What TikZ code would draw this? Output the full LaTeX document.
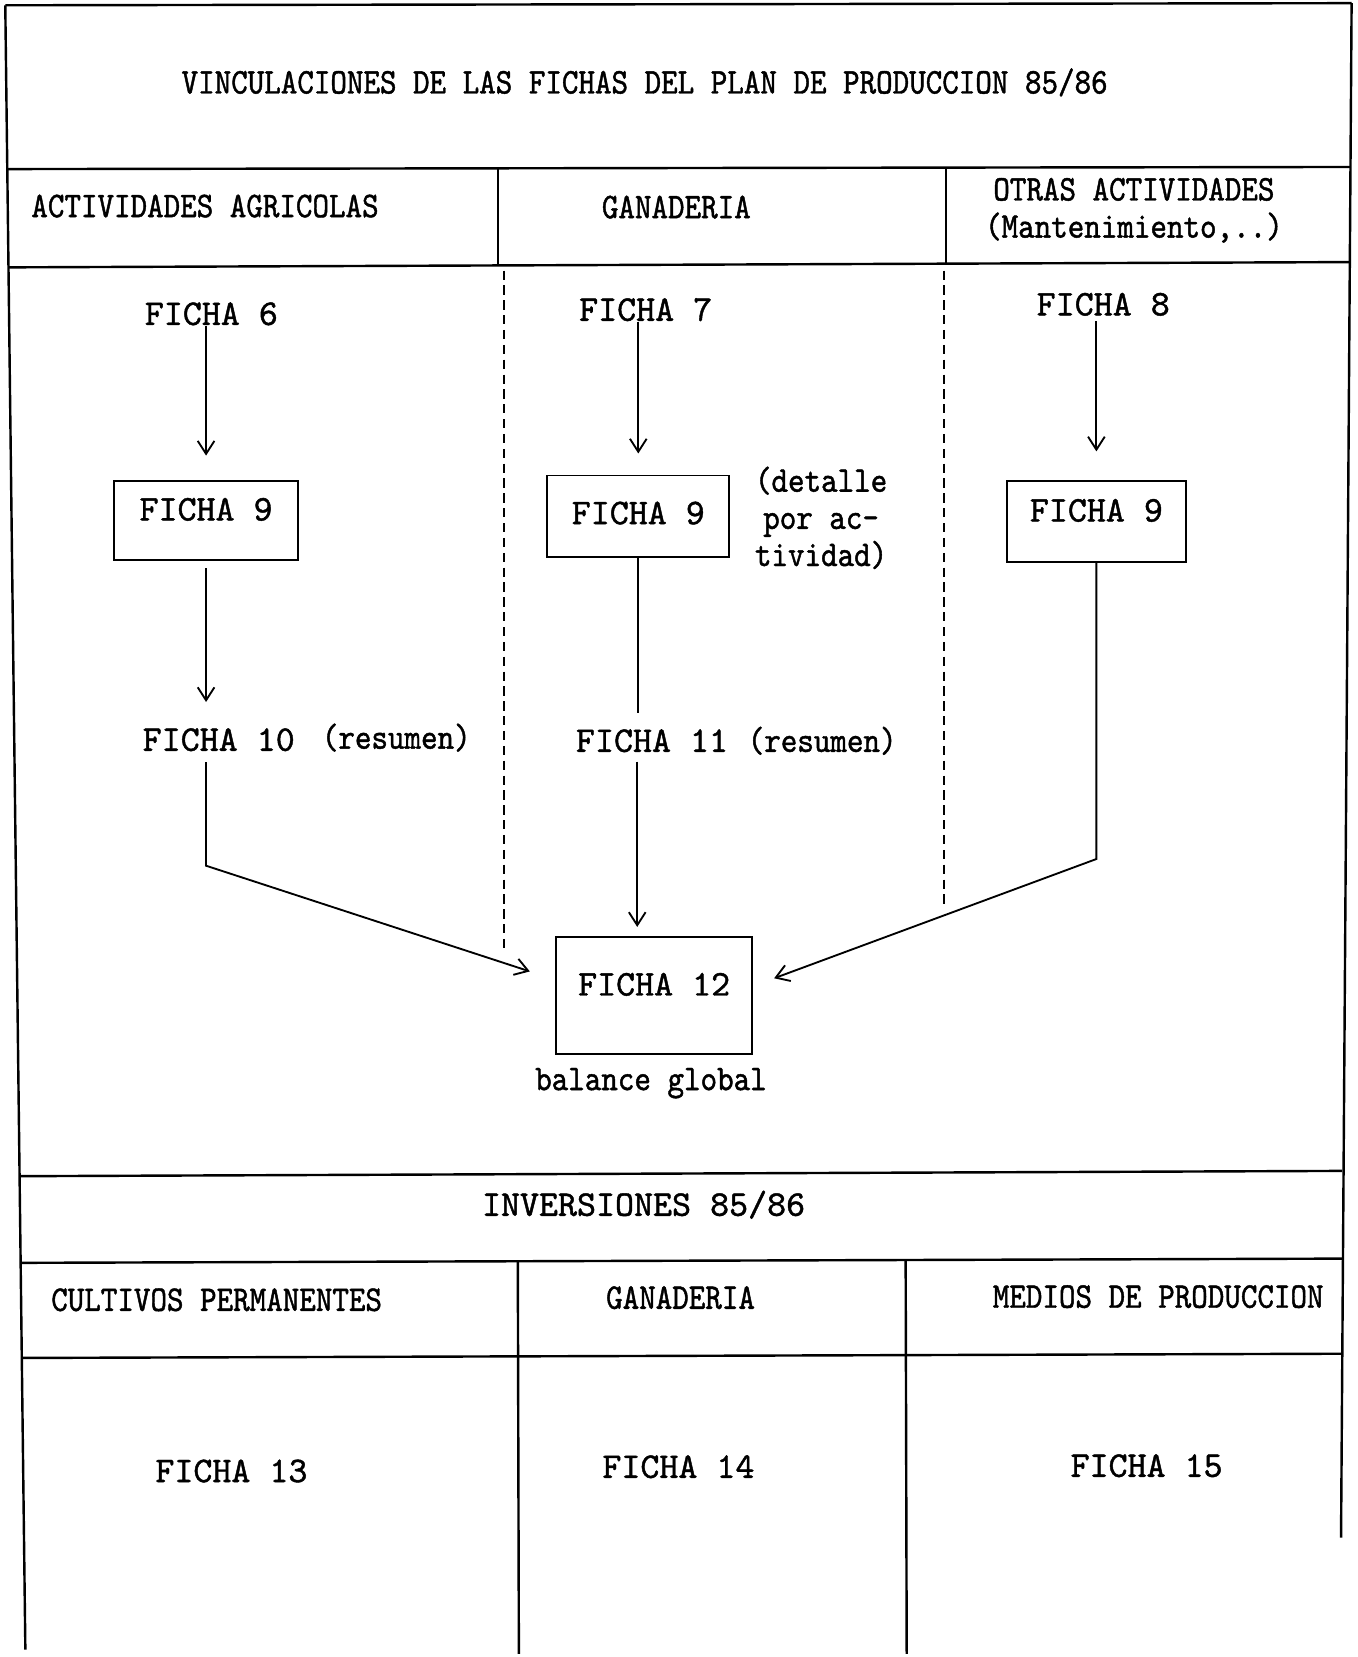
\documentclass[tikz,border=0pt]{standalone}
\usepackage{fontspec}
\usetikzlibrary{arrows.meta,positioning}
\newfontfamily\fichafont{lmmono10-regular.otf}[FakeBold=1.2]
\newfontfamily\condfont{lmmono10-regular.otf}[FakeStretch=0.87, FakeBold=1.2]

\begin{document}
\begin{tikzpicture}[
    x=0.02cm, y=-0.02cm,
    ficha/.style={inner sep=0pt, font=\fontsize{19.5}{22}\fichafont},
    cond/.style={inner sep=0pt, align=center, font=\fontsize{19.5}{20}\condfont},
    hoja/.style={draw, line width=1pt, inner sep=0pt, text height=0.3cm, text depth=0.3cm, font=\fontsize{19.5}{22}\fichafont},
    arr/.style={-{Straight Barb[length=7pt,width=9pt]}, line width=1pt},
    conn/.style={line width=1pt},
    rule/.style={line width=1.3pt},
    sep/.style={line width=1.2pt, dash pattern=on 5pt off 3pt},
]
    \useasboundingbox (0,0) rectangle (1285,1568);

    % frame and table rules
    \draw[rule] (5,5) -- (1279,3);
    \draw[rule] (5,5) -- (24,1561);
    \draw[rule] (1279,3) -- (1269,1455);
    \draw[rule] (7,160) -- (1278,158);
    \draw[rule] (8,253) -- (1278,248);
    \draw[rule] (471,160) -- (471,251);
    \draw[rule] (895,159) -- (895,249);
    \draw[rule] (19,1113) -- (1270,1108);
    \draw[rule] (20,1195) -- (1270,1191);
    \draw[rule] (21,1285) -- (1270,1281);
    \draw[rule] (490,1194) -- (491,1565);
    \draw[rule] (857,1192) -- (858,1565);
    \draw[sep] (477,256) -- (477,900);
    \draw[sep] (893,256) -- (893,858);

    % headers
    \node[cond] (titulo) at (610,78) {VINCULACIONES DE LAS FICHAS DEL PLAN DE PRODUCCION 85/86};
    \node[cond] (hagr) at (194,195) {ACTIVIDADES AGRICOLAS};
    \node[cond] (hgan) at (640,196) {GANADERIA};
    \node[cond] (hotr) at (1073,199) {OTRAS ACTIVIDADES\\(Mantenimiento,..)};

    % plan de produccion
    \node[ficha] (f6) at (200,297) {FICHA 6};
    \node[ficha] (f7) at (611,293) {FICHA 7};
    \node[ficha] (f8) at (1044,288) {FICHA 8};
    \node[hoja, minimum width=3.48cm, minimum height=1.5cm] (b9a) at (195,492.5) {FICHA 9};
    \node[hoja, text depth=0pt, minimum width=3.44cm, minimum height=1.54cm] (b9b) at (604,488.5) {FICHA 9};
    \node[hoja, minimum width=3.38cm, minimum height=1.54cm] (b9c) at (1037.5,493.5) {FICHA 9};
    \node[cond] (det) at (777,490) {(detalle\\por ac-\\tividad)};
    \node[ficha] (f10) at (207,700) {FICHA 10};
    \node[cond] (r10) at (375,698) {(resumen)};
    \node[ficha] (f11) at (617,701) {FICHA 11};
    \node[cond] (r11) at (778,701) {(resumen)};
    \node[hoja, minimum width=3.72cm, minimum height=2.2cm] (b12) at (619,942) {FICHA 12};
    \node[cond] (bal) at (616,1025) {balance global};

    \draw[arr, shorten >=0.46cm] (f6.south -| b9a.north) -- (b9a.north);
    \draw[arr, shorten <=0.14cm, shorten >=0.49cm] (b9a.south) -- (b9a.south |- f10.north);
    \draw[arr, shorten <=0.2cm, shorten >=0.5cm] (f10.south -| b9a.south) -- ++(0,108) -- ([yshift=0.3cm]b12.west);
    \draw[arr, shorten >=0.4cm] (f7.south -| b9b.north) -- (b9b.north);
    \draw[conn, shorten >=0.31cm] (b9b.south) -- (b9b.south |- f11.north);
    \draw[arr, shorten <=0.17cm, shorten >=0.18cm] ([xshift=-0.32cm]f11.south -| b12.north) -- ([xshift=-0.32cm]b12.north);
    \draw[arr, shorten <=0.1cm, shorten >=0.54cm] (f8.south -| b9c.north) -- (b9c.north);
    \draw[arr, shorten >=0.42cm] (b9c.south) -- ++(0,280) -- ([yshift=0.18cm]b12.east);

    % inversiones
    \node[ficha] (inv) at (609,1140) {INVERSIONES 85/86};
    \node[cond] (hcul) at (205,1230) {CULTIVOS PERMANENTES};
    \node[cond] (hgan2) at (644,1228) {GANADERIA};
    \node[cond] (hmed) at (1096,1227) {MEDIOS DE PRODUCCION};
    \node[ficha] (f13) at (219,1392) {FICHA 13};
    \node[ficha] (f14) at (642,1388) {FICHA 14};
    \node[ficha] (f15) at (1085,1387) {FICHA 15};
\end{tikzpicture}
\end{document}
